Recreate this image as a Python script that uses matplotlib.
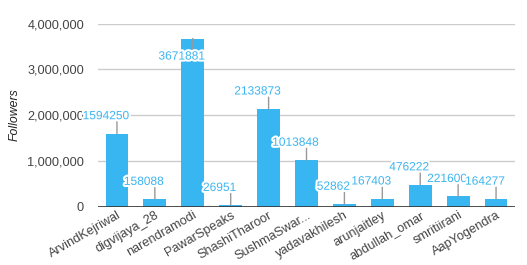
import numpy as np
from matplotlib import pyplot as plt
from matplotlib import patheffects as pe
from matplotlib.ticker import FuncFormatter

handles = ['ArvindKejriwal', 'digvijaya_28', 'narendramodi', 'PawarSpeaks',
           'ShashiTharoor', 'SushmaSwar...', 'yadavakhilesh', 'arunjaitley',
           'abdullah_omar', 'smritiirani', 'AapYogendra']
followers = [1594250, 158088, 3671881, 26951, 2133873, 1013848,
             52862, 167403, 476222, 221600, 164277]

plt.rcParams['font.family'] = ['Liberation Sans', 'DejaVu Sans']

barCol = '#38b6f1'
txtCol = '#444444'

fig = plt.figure(figsize=(5.27, 2.65), dpi=100)
ax = fig.add_axes([98/527, 1-206.5/265, (515-98)/527, (206.5-23.5)/265])

x = np.arange(len(handles))
ax.bar(x, followers, width=0.6, color=barCol, zorder=2)

ax.set_xlim(-0.5, len(handles)-0.5)
ax.set_ylim(0, 4000000)
ax.set_yticks([0, 1000000, 2000000, 3000000, 4000000])
ax.yaxis.set_major_formatter(FuncFormatter(lambda v, p: '{:,.0f}'.format(v)))
ax.grid(axis='y', color='#cccccc', linewidth=1, zorder=0)
ax.axhline(0, color='#333333', linewidth=1.2, zorder=3)
for s in ax.spines.values():
    s.set_visible(False)
ax.tick_params(axis='both', length=0, labelsize=9.2, labelcolor=txtCol)
ax.tick_params(axis='y', pad=10)
ax.tick_params(axis='x', pad=2)
ax.set_xticks(x)
ax.set_xticklabels(handles, rotation=30, ha='right', rotation_mode='anchor')
ax.set_ylabel('Followers', fontsize=8.8, style='italic', color='#222222', labelpad=5)

# value annotations with stems (labels sit a bit left of the stem)
halo = [pe.withStroke(linewidth=3, foreground='white')]
for i, v in enumerate(followers):
    if v > 3500000:
        stem, ty = -9.5, -13
    else:
        stem, ty = 8.5, 12.5
    ax.annotate('', xy=(i, v), xytext=(0, stem), textcoords='offset points',
                arrowprops=dict(arrowstyle='-', color='#999999', lw=1, shrinkA=0, shrinkB=0),
                zorder=4)
    ax.annotate(str(v), xy=(i, v), xytext=(-8, ty), textcoords='offset points',
                ha='center', va='center', fontsize=8.6, color='#3db5f0',
                path_effects=halo, zorder=5, annotation_clip=False)

plt.savefig('out.png', dpi=100)
